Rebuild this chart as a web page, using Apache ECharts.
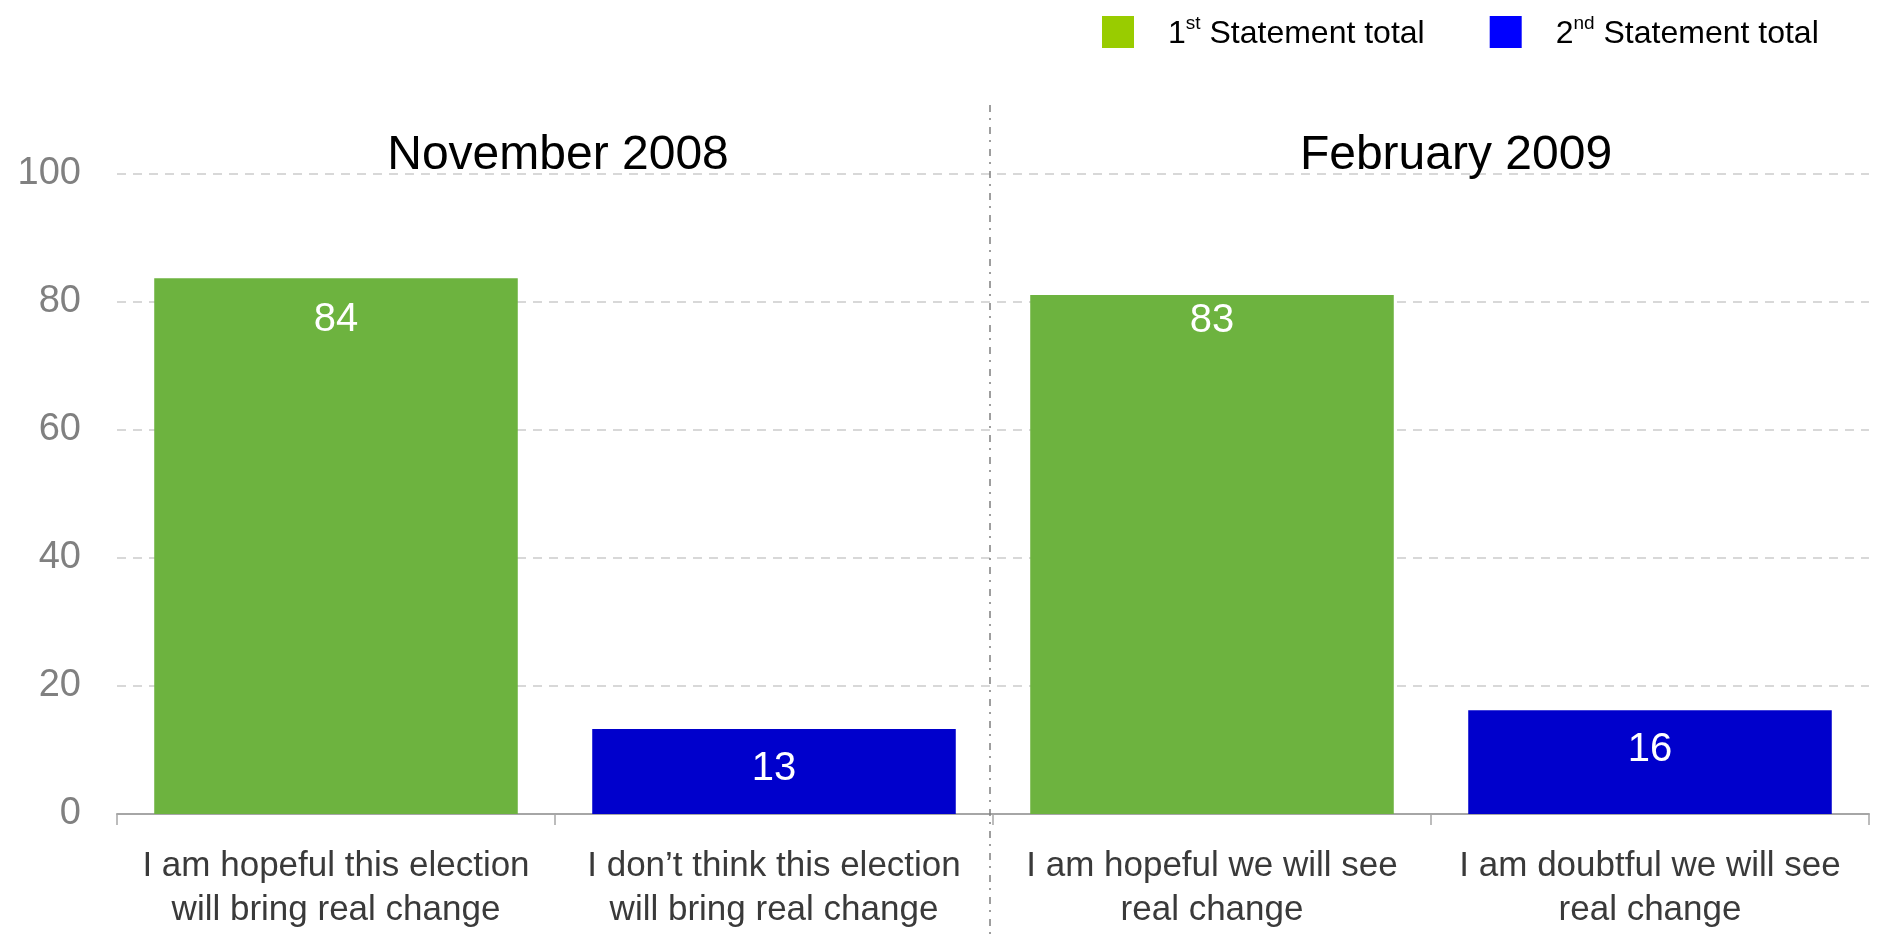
<!DOCTYPE html>
<html>
<head>
<meta charset="utf-8">
<script src="https://cdn.jsdelivr.net/npm/echarts@6/dist/echarts.min.js"></script>
<style>
html,body{margin:0;padding:0;background:#fff;}
#chart{width:1877px;height:935px;}
</style>
</head>
<body>
<div id="chart"></div>
<script>
// ---- data ----
const categories = [
  'I am hopeful this election\nwill bring real change',
  'I don\u2019t think this election\nwill bring real change',
  'I am hopeful we will see\nreal change',
  'I am doubtful we will see\nreal change'
];
const seriesNames = ['1st Statement total', '2nd Statement total'];
const periods = ['November 2008', 'February 2009'];
const barValues = [83.7, 13.3, 81.1, 16.2];   // bar heights as drawn
const barLabels = [84, 13, 83, 16];           // printed values
const statementOf = [0, 1, 0, 1];             // which series each category belongs to
const yTicks = [0, 20, 40, 60, 80, 100];

// ---- styling ----
const FONT = 'Arial, "Liberation Sans", sans-serif';
const labelDistance = [22, 20, 6, 20];
const chart = echarts.init(document.getElementById('chart'), null, {renderer: 'canvas'});

function seriesData(s) {
  return barValues.map((v, i) => statementOf[i] === s
    ? {value: v, label: {formatter: String(barLabels[i]), distance: labelDistance[i]}}
    : '-');
}

const option = {
  animation: false,
  backgroundColor: '#ffffff',
  grid: {left: 117, right: 8, top: 174, bottom: 121, containLabel: false},
  legend: {
    left: 1097, top: 9,
    itemWidth: 32, itemHeight: 32, itemGap: 65,
    icon: 'rect',
    data: [
      {name: seriesNames[0], itemStyle: {color: '#99CC00'}},
      {name: seriesNames[1], itemStyle: {color: '#0000FF'}}
    ],
    formatter: function (name) {
      const n = name.charAt(0), sup = name.substr(1, 2), rest = name.substr(3);
      return '{n|' + n + '}{s|' + sup + '}{n|' + rest + '}';
    },
    textStyle: {
      padding: [0, 0, 0, 29],
      rich: {
        n: {fontSize: 32, fontFamily: FONT, color: '#000', lineHeight: 36, verticalAlign: 'bottom'},
        s: {fontSize: 19, fontFamily: FONT, color: '#000', lineHeight: 21, verticalAlign: 'top'}
      }
    }
  },
  xAxis: {
    type: 'category',
    data: categories,
    axisLine: {show: true, lineStyle: {color: '#a6a6a6', width: 2}},
    axisTick: {show: true, interval: 0, length: 11, lineStyle: {color: '#a6a6a6', width: 1.5}},
    axisLabel: {
      interval: 0, margin: 30, fontSize: 35, lineHeight: 44,
      color: '#3a3a3a', fontFamily: FONT
    },
    splitLine: {show: false}
  },
  yAxis: {
    type: 'value',
    min: yTicks[0], max: yTicks[yTicks.length - 1], interval: yTicks[1] - yTicks[0],
    axisLine: {show: false},
    axisTick: {show: false},
    axisLabel: {fontSize: 38, color: '#808080', fontFamily: FONT, margin: 36},
    splitLine: {show: true, lineStyle: {color: '#cccccc', type: [9, 7], width: 1.5}}
  },
  series: [
    {
      name: seriesNames[0], type: 'bar', barWidth: '83%', barGap: '-100%',
      itemStyle: {color: '#6DB33F'},
      label: {show: true, position: 'insideTop', color: '#fff', fontSize: 40, fontFamily: FONT},
      data: seriesData(0)
    },
    {
      name: seriesNames[1], type: 'bar', barWidth: '83%', barGap: '-100%',
      itemStyle: {color: '#0000CC'},
      label: {show: true, position: 'insideTop', color: '#fff', fontSize: 40, fontFamily: FONT},
      data: seriesData(1)
    }
  ]
};
chart.setOption(option);

// separator between the two periods, and period titles
const x0 = chart.convertToPixel({xAxisIndex: 0}, categories[0]);
const x1 = chart.convertToPixel({xAxisIndex: 0}, categories[1]);
const x2 = chart.convertToPixel({xAxisIndex: 0}, categories[2]);
const x3 = chart.convertToPixel({xAxisIndex: 0}, categories[3]);
const sepX = (x1 + x2) / 2 - 3;
chart.setOption({
  graphic: [
    {type: 'line', shape: {x1: sepX, y1: 105, x2: sepX, y2: 935},
     style: {stroke: '#7f7f7f', lineWidth: 1.5, lineDash: [7, 6, 2, 7]}, z: 10},
    {type: 'text', x: (x0 + x1) / 2 + 3, y: 156,
     style: {text: periods[0], fontSize: 48, fontFamily: FONT, fill: '#000', align: 'center', verticalAlign: 'middle'}},
    {type: 'text', x: (x2 + x3) / 2 + 25, y: 156,
     style: {text: periods[1], fontSize: 48, fontFamily: FONT, fill: '#000', align: 'center', verticalAlign: 'middle'}}
  ]
});
</script>
</body>
</html>
